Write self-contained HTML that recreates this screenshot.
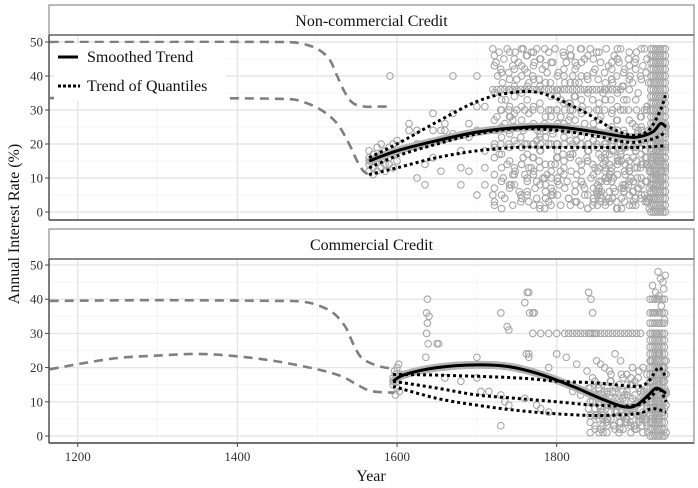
<!DOCTYPE html>
<html><head><meta charset="utf-8">
<style>
html,body{margin:0;padding:0;background:#fff;}
svg{display:block;font-family:"Liberation Serif",serif;}
</style></head>
<body>
<svg id="chart" width="698" height="488" viewBox="0 0 698 488" xmlns="http://www.w3.org/2000/svg">
<g id="root"></g>
</svg>
<script>
// ---- Axis data ----
const xTicks = [1200, 1400, 1600, 1800];
const xMinor = [1300, 1500, 1700, 1900];
const yTicks = [0, 10, 20, 30, 40, 50];
const yMinor = [5, 15, 25, 35, 45];
const panelTitles = ["Non-commercial Credit", "Commercial Credit"];

// ---- Panel 1 (Non-commercial) series ----
const nc_dashUpperX = [1165, 1300, 1450, 1480, 1500, 1515, 1525, 1535, 1545, 1560, 1575, 1590];
const nc_dashUpperY = [50, 50, 50, 49.5, 48, 45, 40, 35, 32, 31, 31, 31];
const nc_dashLowerX = [1165, 1300, 1450, 1480, 1505, 1525, 1540, 1550, 1558, 1565];
const nc_dashLowerY = [33.5, 33.5, 33.3, 32.5, 30, 26, 20, 15, 12, 11];
const nc_smoothX = [1565, 1600, 1650, 1700, 1750, 1800, 1850, 1880, 1900, 1920, 1930, 1937];
const nc_smoothY = [15, 18, 21, 23.5, 24.8, 25, 23.5, 22.3, 22, 23.5, 26, 25];
const nc_qHighX = [1565, 1600, 1650, 1700, 1740, 1780, 1830, 1870, 1895, 1915, 1930, 1937];
const nc_qHighY = [16, 20, 26.5, 32.5, 35, 35, 30, 24.5, 22.5, 24, 30, 35];
const nc_qMidX = [1565, 1600, 1650, 1700, 1750, 1800, 1850, 1890, 1920, 1937];
const nc_qMidY = [13, 16.5, 20, 23, 24.5, 24, 22.3, 20.5, 21.5, 23.5];
const nc_qLowX = [1565, 1600, 1650, 1700, 1750, 1800, 1850, 1900, 1937];
const nc_qLowY = [11, 13, 16, 18, 19, 19, 19, 19, 19.5];
const nc_ptYears = [1565,1565,1565,1565,1570,1570,1570,1570,1575,1575,1575,1580,1580,1580,1580,1585,1585,1585,1590,1590,1590,1595,1595,1595,1600,1600,1600,1591,
1615,1615,1625,1625,1625,1635,1635,1645,1645,1645,1655,1655,1660,1660,1670,1670,1670,1680,1680,1680,1690,1690,1690,1700,1700,1700,1700,1710,1710,1710,1710,
1720,1722,1724,1726,1728,1730,1732,1734,1736,1738,1740,1742,1745,1748,1750,1752,1755,1758,1760,1762,1765,1768,1770,1772,1775,1778,1780,1782,1785,1788,1790,1792,1795,1798,
1720,1725,1730,1735,1740,1745,1750,1755,1760,1765,1770,1775,1780,1785,1790,1795,1800,1805,1810,1815,1820,1825,1830,1835,1840,1845,1850,1855,1860,1865,1870,1875,1880,
1800,1802,1805,1808,1810,1812,1815,1818,1820,1822,1825,1828,1830,1832,1835,1838,1840,1842,1845,1848,1850,1852,1855,1858,1860,1862,1865,1868,1870,1872,1875,1878,1880,1882,1885,1888,1890,1892,1895,1898,1900,1902,1905,1908,1910,1912,1915,
1725,1735,1745,1755,1765,1775,1785,1795,1805,1815,1825,1835,1845,1855,1865,1875,1885,1895,1905,1915,
1730,1740,1750,1760,1770,1780,1790,1800,1810,1820,1830,1840,1850,1860,1870,1880,1890,1900,1910,
1728,1738,1748,1758,1768,1778,1788,1798,1808,1818,1828,1838,1848,1858,1868,1878,1888,1898,1908,1918,
1733,1743,1753,1763,1773,1783,1793,1803,1813,1823,1833,1843,1853,1863,1873,1883,1893,1903,1913,
1735,1745,1755,1765,1775,1785,1795,1805,1815,1825,1835,1845,1855,1865,1875,1885,1895,1905,1915,1720,1730,1740,1750,1760,1770,1780,1790,1800,1810,1820,1830,1840,1850,1860,1870,1880,1890,1900,1910,
1722,1740,1758,1776,1794,1812,1830,1848,1866,1884,1902,1725,1745,1765,1785,1805,1825,1845,1865,1885,1905,
1760,1780,1800,1820,1840,1860,1880,1900,1770,1790,1810,1830,1850,1870,1890,1910,1755,1775,1795,1815,1835,1855,1875,1895,1915];
const nc_ptRates = [12,14,16,18,11,13,15,17,12,16,19,13,15,17,20,12,14,18,14,16,19,13,17,20,15,18,21,40,
24,26,24,20,10,8,14,24,29,16,24,12,24,26,40,29,23,8,18,13,26,22,12,40,31,24,5,13,31,18,8,
48,46,44,40,47,42,38,45,33,48,41,28,43,47,39,44,36,48,42,46,38,47,40,44,48,39,45,42,48,41,47,38,44,48,
36,36,36,36,36,36,36,36,36,36,36,36,36,36,36,36,36,36,36,36,36,36,36,36,36,36,36,36,36,36,36,36,36,
30,41,33,47,38,44,32,46,40,34,43,38,48,31,45,40,36,48,33,42,47,39,44,35,41,48,43,33,38,46,40,44,48,37,42,33,45,40,38,44,47,35,40,43,48,41,38,
28,26,27,22,29,21,26,23,28,27,21,26,24,28,22,27,23,26,28,24,
30,30,30,30,30,30,30,30,30,30,30,30,30,30,30,30,30,30,30,
17,14,12,16,13,15,11,14,17,12,15,16,13,14,12,15,16,13,14,15,
10,8,6,9,7,10,5,8,9,6,8,10,7,9,6,8,10,7,9,
4,2,5,3,4,1,5,2,4,3,5,2,3,4,1,3,2,4,3,5,20,20,20,20,20,20,20,20,20,20,20,20,20,20,20,20,20,20,20,20,
24,24,24,24,24,24,24,24,24,24,24,11,13,10,12,11,14,10,12,13,11,
18,16,17,18,16,17,15,16,3,7,2,6,4,8,5,3,9,6,4,7,5,3,6,4,8];
// extra scatter rows sharing a year list
const nc_rowYears = [1722,1731,1741,1747,1756,1763,1771,1779,1786,1793,1801,1809,1817,1823,1831,1839,1846,1853,1861,1869,1876,1884,1891,1899,1906,1913];
const nc_rowRates = [
 [3,9,15,21,27,33,39,45,6,12,18,24,30,42,48,1,7,13,19,25,31,37,43,4,10,16],
 [11,17,23,29,35,41,47,2,8,14,20,26,32,38,44,5,11,17,23,29,35,41,47,2,8,14],
 [19,25,31,37,43,5,11,13,22,28,34,40,46,3,9,15,21,27,33,39,45,6,12,18,24,30],
 [27,33,39,45,4,10,16,22,28,34,40,46,2,8,14,20,26,32,38,44,1,7,13,19,25,31],
 [35,41,47,8,14,20,26,32,38,44,5,11,17,23,29,35,41,47,3,9,15,21,27,33,39,45],
 [43,1,7,13,19,25,31,37,43,2,9,15,21,27,33,39,45,6,12,18,24,30,36,42,48,4],
 [7,13,19,25,31,37,43,1,4,10,16,22,28,34,40,46,3,9,15,21,27,33,39,45,8,14],
 [16,22,28,34,40,46,2,8,14,20,26,32,38,44,9,15,21,27,33,39,45,6,12,18,24,3],
 [24,30,36,42,48,6,12,18,24,30,36,42,48,6,12,18,24,30,36,42,48,6,12,18,24,30],
 [2,5,8,11,14,17,20,23,4,7,10,13,16,19,22,1,4,7,10,13,16,19,22,25,28,31]
];
const nc_lateYears = [1851,1856,1861,1866,1871,1876,1881,1886,1891,1896,1901,1906,1911,1916,1921,1926,1931,1936];
const nc_lateRates = [
 [2,6,10,14,18,22,4,8,12,16,20,24,3,7,11,15,19,23],
 [5,9,13,17,21,1,7,11,15,19,23,5,9,13,17,21,1,6],
 [12,16,20,3,7,11,15,19,2,6,10,14,18,22,4,8,12,16],
 [19,23,2,6,10,14,18,22,5,9,13,17,21,1,7,11,15,19],
 [8,4,17,11,24,20,1,14,9,3,7,21,16,12,25,18,9,13]
];
const nc_colYears = [1918,1921,1924,1927,1930,1933,1936];
const nc_colRates = [0,2,4,6,8,10,12,14,16,18,20,22,24,26,28,30,32,34,36,38,40,42,44,46,48];

// ---- Panel 2 (Commercial) series ----
const c_dashUpperX = [1165, 1300, 1450, 1480, 1500, 1520, 1535, 1545, 1555, 1570, 1585, 1597];
const c_dashUpperY = [39.5, 39.7, 39.5, 39.3, 38.3, 36, 32, 27, 23, 21, 20, 19.8];
const c_dashLowerX = [1165, 1200, 1250, 1300, 1350, 1400, 1450, 1500, 1530, 1550, 1565, 1580, 1597];
const c_dashLowerY = [19.5, 21, 22.8, 23.5, 24, 23.3, 21.8, 19.5, 17.5, 15, 13.3, 12.8, 12.7];
const c_smoothX = [1595, 1610, 1650, 1700, 1740, 1780, 1820, 1860, 1885, 1900, 1915, 1925, 1937];
const c_smoothY = [16, 18, 20, 20.8, 20.3, 18, 14.5, 10.5, 8.5, 9, 12, 14, 12.5];
const c_qHighX = [1595, 1650, 1750, 1800, 1850, 1900, 1915, 1928, 1937];
const c_qHighY = [18, 17.8, 17, 16, 15.5, 14.5, 16, 20, 17];
const c_qMidX = [1595, 1650, 1700, 1750, 1800, 1850, 1900, 1920, 1928, 1937];
const c_qMidY = [16, 14, 12, 11, 10, 9, 9, 12, 14, 10];
const c_qLowX = [1595, 1650, 1700, 1750, 1800, 1850, 1900, 1920, 1937];
const c_qLowY = [14.5, 11, 9, 7.5, 6.5, 6, 6.5, 8, 7];
const c_ptYears = [1595,1595,1597,1598,1600,1600,1600,1602,1605,1603,1598,1601,
1638,1637,1640,1638,1637,1639,1636,1650,1652,1700,1705,1730,1738,1740,1763,1765,1760,1766,1770,1772,1765,1790,1700,1680,1715,1730,1735,1760,1762,1775,1780,1790,1770,1660,1730,1765,1740,
1780,1790,1800,1810,1815,1820,1825,1830,1835,1840,1842,1845,1848,1850,1855,1860,1865,1870,1875,1880,1885,1890,1895,1900,1905,
1840,1843,1845,1800,1812,1825,1838,1850,1855,1860,1866,1873,1880,1888,1895,1848,1852,
1820,1830,1840,1845,1850,1855,1860,1865,1870,1875,1880,1885,1890,1895,1900,1905,1910,1850,1858,1862,1868,1872,1878,1883,1887,1892,1897,1902,1907,1912,
1845,1852,1860,1867,1874,1881,1888,1895,1902,1909,1855,1863,1871,1879,1886,1893,1900,1907,1914,1840,1848,1856,1864,1872,1880,1888,1896,1904,1912];
const c_ptRates = [15,17,19,18,20,16,14,21,18,13,12,17,
40,36,35,33,30,27,23,27,27,23,13,36,32,31,42,42,39,36,36,36,24,20,17,16,13,12,10,11,24,9,8,7,30,17,3,23,9,
30,30,30,30,30,30,30,30,30,30,30,30,30,30,30,30,30,30,30,30,30,30,30,30,30,
42,40,36,24,23,21,19,22,21,20,19,24,22,18,20,16,14,
13,12,14,10,12,8,11,9,13,7,10,12,8,11,9,13,10,6,5,4,7,3,6,2,5,4,3,6,5,4,
17,15,13,16,14,18,12,15,17,13,2,1,3,2,4,1,2,3,1,8,6,7,5,9,4,7,8,6,5];
const c_lateYears = [1842,1848,1853,1858,1863,1868,1873,1878,1883,1888,1893,1898,1903,1908,1913,1918,1923,1928,1933,1937];
const c_lateRates = [
 [1,3,5,7,9,11,13,15,2,4,6,8,10,12,14,16,3,5,7,9],
 [10,12,14,1,3,5,7,9,11,13,15,2,4,6,8,10,12,14,16,1],
 [6,8,10,12,14,16,2,4,6,8,10,12,14,1,3,5,7,9,11,13],
 [14,16,1,3,5,7,9,11,13,15,17,3,5,7,9,11,13,15,17,18],
 [4,2,9,6,13,18,11,1,17,5,3,16,19,20,18,22,21,24,20,22]
];
const c_colYears = [1917,1920,1923,1926,1929,1932,1935];
const c_colRates = [0,2,4,6,8,10,12,14,16,18,20,22,24,26,28,30,33,36,40];
const c_topYears = [1920,1924,1927,1930,1933,1936,1925,1931,1934,1928,1922,1935];
const c_topRates = [44,42,48,46,45,47,30,38,43,41,36,34];

// ---- Layout ----
const X0 = 49, X1 = 694, YEAR0 = 1164, YEAR1 = 1972;
const panels = [
  {stripTop: 5, stripBot: 35, plotBot: 220, y50: 42, y0: 212},
  {stripTop: 229, stripBot: 259, plotBot: 443, y50: 265, y0: 436}
];
const NS = "http://www.w3.org/2000/svg";
const root = document.getElementById("root");
function xs(yr){ return X0 + (yr - YEAR0) / (YEAR1 - YEAR0) * (X1 - X0); }
function ysFor(p){ return v => p.y0 + (p.y50 - p.y0) * v / 50; }
function el(tag, attrs, parent){
  const e = document.createElementNS(NS, tag);
  for (const k in attrs) e.setAttribute(k, attrs[k]);
  (parent || root).appendChild(e);
  return e;
}
function spline(xa, ya, ys){
  const P = xa.map((x,i)=>[xs(x), ys(ya[i])]);
  let d = "M" + P[0][0].toFixed(1) + "," + P[0][1].toFixed(1);
  for (let i=0;i<P.length-1;i++){
    const p0=P[Math.max(0,i-1)], p1=P[i], p2=P[i+1], p3=P[Math.min(P.length-1,i+2)];
    const c1=[p1[0]+(p2[0]-p0[0])/6, p1[1]+(p2[1]-p0[1])/6];
    const c2=[p2[0]-(p3[0]-p1[0])/6, p2[1]-(p3[1]-p1[1])/6];
    d += " C"+c1[0].toFixed(1)+","+c1[1].toFixed(1)+" "+c2[0].toFixed(1)+","+c2[1].toFixed(1)+" "+p2[0].toFixed(1)+","+p2[1].toFixed(1);
  }
  return d;
}
function collectPoints(ptY, ptR, rowY, rowR, colY, colR, extraY, extraR){
  const out = [];
  ptY.forEach((y,i)=>out.push([y, ptR[i]]));
  rowR.forEach(row => row.forEach((r,i)=>out.push([rowY[i], r])));
  colY.forEach(y => colR.forEach(r => out.push([y, r])));
  if (extraY) extraY.forEach((y,i)=>out.push([y, extraR[i]]));
  return out;
}

const series = [
  {dU:[nc_dashUpperX,nc_dashUpperY], dL:[nc_dashLowerX,nc_dashLowerY], sm:[nc_smoothX,nc_smoothY],
   q:[[nc_qHighX,nc_qHighY],[nc_qMidX,nc_qMidY],[nc_qLowX,nc_qLowY]],
   pts: collectPoints(nc_ptYears, nc_ptRates, nc_rowYears, nc_rowRates, nc_colYears, nc_colRates)
          .concat(collectPoints([], [], nc_lateYears, nc_lateRates, [], []))},
  {dU:[c_dashUpperX,c_dashUpperY], dL:[c_dashLowerX,c_dashLowerY], sm:[c_smoothX,c_smoothY],
   q:[[c_qHighX,c_qHighY],[c_qMidX,c_qMidY],[c_qLowX,c_qLowY]],
   pts: collectPoints(c_ptYears, c_ptRates, c_lateYears, c_lateRates, c_colYears, c_colRates, c_topYears, c_topRates)}
];

panels.forEach((p, pi) => {
  const ys = ysFor(p);
  const s = series[pi];
  const g = el("g", {});
  
  
  yMinor.forEach(v => el("line", {x1:X0,x2:X1,y1:ys(v),y2:ys(v),stroke:"#f3f3f3","stroke-width":0.8}, g));
  xMinor.forEach(v => el("line", {x1:xs(v),x2:xs(v),y1:p.stripBot,y2:p.plotBot,stroke:"#f3f3f3","stroke-width":0.8}, g));
  yTicks.forEach(v => {
    el("line", {x1:X0,x2:X1,y1:ys(v),y2:ys(v),stroke:"#e6e6e6","stroke-width":1.4}, g);
    el("line", {x1:X0-4,x2:X0,y1:ys(v),y2:ys(v),stroke:"#444","stroke-width":1}, g);
    const t = el("text", {x:X0-6,y:ys(v)+4.5,"text-anchor":"end","font-size":13,fill:"#333"}, g);
    t.textContent = v;
    
    
  });
  xTicks.forEach(v => el("line", {x1:xs(v),x2:xs(v),y1:p.stripBot,y2:p.plotBot,stroke:"#e6e6e6","stroke-width":1.4}, g));
  const pg = el("g", {fill:"none",stroke:"#a6a6a6","stroke-width":1.1}, g);
  
  
  s.pts.forEach(pt => {
    const c = el("circle", {cx:xs(pt[0]).toFixed(1), cy:ys(pt[1]).toFixed(1), r:3.3}, pg);
    
    
  });
  [s.dU, s.dL].forEach((d, k) => {
    const e = el("path", {d:spline(d[0],d[1],ys),fill:"none",stroke:"#7f7f7f","stroke-width":2.6,"stroke-dasharray":"9,6"}, g);
    
    
  });
  const rb = el("path", {d:spline(s.sm[0],s.sm[1],ys),fill:"none",stroke:"#b5b5b5","stroke-width":8,"stroke-linecap":"round"}, g);
  
  
  s.q.forEach(q => {
    const e = el("path", {d:spline(q[0],q[1],ys),fill:"none",stroke:"#000","stroke-width":3,"stroke-dasharray":"3,3"}, g);
    
    
  });
  const sm = el("path", {d:spline(s.sm[0],s.sm[1],ys),fill:"none",stroke:"#000","stroke-width":3}, g);
  
  
  el("rect", {x:X0,y:p.stripTop,width:X1-X0,height:p.stripBot-p.stripTop,fill:"#fff",stroke:"#777","stroke-width":1}, g);
  el("line", {x1:X0,x2:X1,y1:p.stripBot,y2:p.stripBot,stroke:"#333","stroke-width":1.6}, g);
  const st = el("text", {x:(X0+X1)/2,y:p.stripTop+21,"text-anchor":"middle","font-size":16,fill:"#111"}, g);
  st.textContent = panelTitles[pi];
  
  
  el("rect", {x:X0,y:p.stripBot,width:X1-X0,height:p.plotBot-p.stripBot,fill:"none",stroke:"#777","stroke-width":1}, g);
  el("line", {x1:X0,x2:X0,y1:p.stripBot,y2:p.plotBot,stroke:"#444","stroke-width":1.4}, g);
  el("line", {x1:X0,x2:X1,y1:p.plotBot,y2:p.plotBot,stroke:"#444","stroke-width":1.4}, g);
});

xTicks.forEach(v => {
  el("line", {x1:xs(v),x2:xs(v),y1:443,y2:447,stroke:"#444","stroke-width":1});
  const t = el("text", {x:xs(v),y:461,"text-anchor":"middle","font-size":13,fill:"#333"});
  t.textContent = v;
  
  
});
const xt = el("text", {x:371,y:481,"text-anchor":"middle","font-size":16,fill:"#111"});
xt.textContent = "Year";


const yt = el("text", {x:0,y:0,"text-anchor":"middle","font-size":16,fill:"#111",transform:"translate(19,224) rotate(-90)"});
yt.textContent = "Annual Interest Rate (%)";



const lg = el("g", {});


el("rect", {x:54,y:43,width:172,height:58,fill:"#fff"}, lg);
el("line", {x1:58,x2:78,y1:57,y2:57,stroke:"#000","stroke-width":3}, lg);
const l1 = el("text", {x:87,y:62,"font-size":16,fill:"#111"}, lg);
l1.textContent = "Smoothed Trend";


el("line", {x1:58,x2:80,y1:86,y2:86,stroke:"#000","stroke-width":3,"stroke-dasharray":"3,2"}, lg);
const l2 = el("text", {x:87,y:91,"font-size":16,fill:"#111"}, lg);
l2.textContent = "Trend of Quantiles";


</script>
</body></html>
